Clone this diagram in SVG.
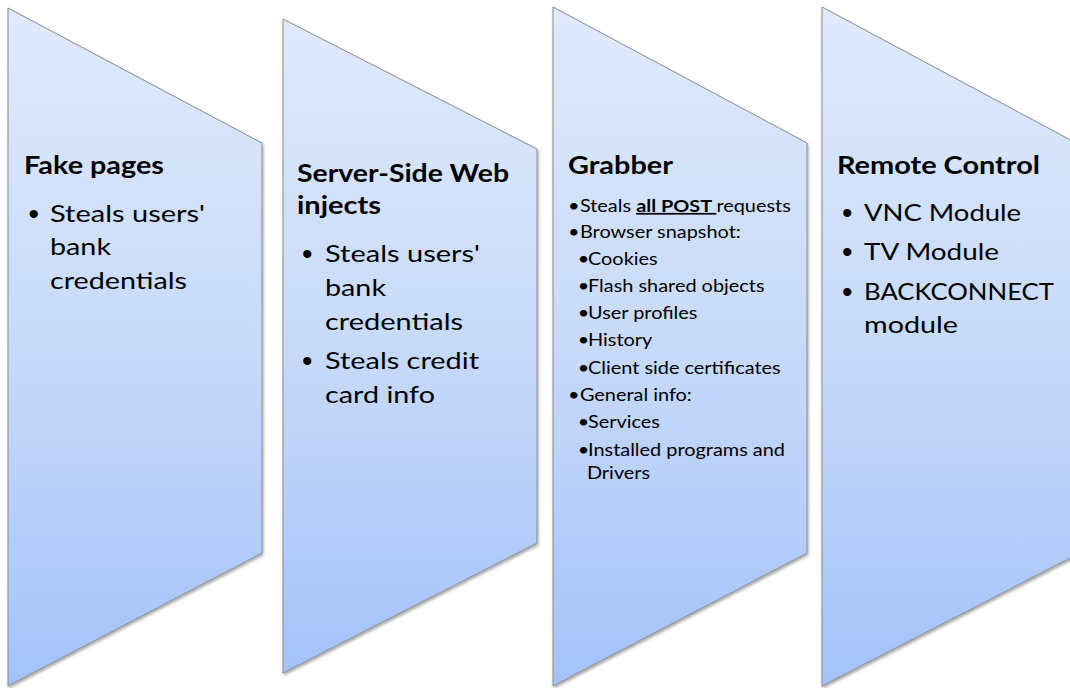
<svg xmlns="http://www.w3.org/2000/svg" width="1070" height="688" viewBox="0 0 1070 688">
  <defs>
    <linearGradient id="fill" x1="0" y1="0" x2="0" y2="1">
      <stop offset="0" stop-color="#e0eafc"/>
      <stop offset="0.5" stop-color="#c7daf9"/>
      <stop offset="1" stop-color="#a4c2fa"/>
    </linearGradient>
    <filter id="shadow" x="-5%" y="-5%" width="110%" height="110%">
      <feDropShadow dx="1" dy="2" stdDeviation="1.5" flood-color="#000" flood-opacity="0.35"/>
    </filter>
  </defs>
  <style>
    .shape { fill: url(#fill); stroke: #8c8c8c; stroke-width: 1; filter: url(#shadow); }
    text { font-family: Lato, "Open Sans", "Liberation Sans", sans-serif; fill: #000; }
    .title { font-size: 24px; font-weight: bold; }
    .big { font-size: 22.5px; }
    .small { font-size: 17px; }
    .dot { font-family: "Liberation Sans", Arial, sans-serif; font-size: 30px; }
    .u { font-weight: bold; text-decoration: underline; }
  </style>
  <rect width="1070" height="688" fill="#fff"/>
  <g id="connectors"></g>

  <g id="node-fake-pages">
    <polygon class="shape" points="8,8 262,143 262,553 8,686"/>
    <text class="title" x="24" y="174" textLength="140" lengthAdjust="spacingAndGlyphs">Fake pages</text>
    <text class="dot" x="28.5" y="224">•</text>
    <text class="big" x="50" y="222" textLength="155" lengthAdjust="spacingAndGlyphs">Steals users'</text>
    <text class="big" x="50" y="255" textLength="61" lengthAdjust="spacingAndGlyphs">bank</text>
    <text class="big" x="50" y="289" textLength="137" lengthAdjust="spacingAndGlyphs">credentials</text>
  </g>

  <g id="node-server-side">
    <polygon class="shape" points="283,19 537,149 537,543 283,673"/>
    <text class="title" x="297" y="182" textLength="212" lengthAdjust="spacingAndGlyphs">Server-Side Web</text>
    <text class="title" x="297" y="214" textLength="84" lengthAdjust="spacingAndGlyphs">injects</text>
    <text class="dot" x="302" y="264">•</text>
    <text class="big" x="325" y="262" textLength="155" lengthAdjust="spacingAndGlyphs">Steals users'</text>
    <text class="big" x="325" y="296" textLength="61" lengthAdjust="spacingAndGlyphs">bank</text>
    <text class="big" x="325" y="330" textLength="138" lengthAdjust="spacingAndGlyphs">credentials</text>
    <text class="dot" x="302" y="371">•</text>
    <text class="big" x="325" y="369" textLength="154" lengthAdjust="spacingAndGlyphs">Steals credit</text>
    <text class="big" x="325" y="403" textLength="110" lengthAdjust="spacingAndGlyphs">card info</text>
  </g>

  <g id="node-grabber">
    <polygon class="shape" points="553,7 807,143 807,553 553,686"/>
    <text class="title" x="568" y="174" textLength="105" lengthAdjust="spacingAndGlyphs">Grabber</text>
    <g transform="translate(568,0) scale(1.17,1)">
      <text class="small" x="0" y="212">•</text>
      <text class="small" x="10.2" y="212">Steals <tspan class="u">all POST </tspan>requests</text>
      <text class="small" x="0" y="238">•</text>
      <text class="small" x="10.2" y="238">Browser snapshot:</text>
      <text class="small" x="8.3" y="265">•</text>
      <text class="small" x="17.1" y="265">Cookies</text>
      <text class="small" x="8.3" y="292">•</text>
      <text class="small" x="17.1" y="292">Flash shared objects</text>
      <text class="small" x="8.3" y="319">•</text>
      <text class="small" x="17.1" y="319">User profiles</text>
      <text class="small" x="8.3" y="346">•</text>
      <text class="small" x="17.1" y="346">History</text>
      <text class="small" x="8.3" y="374">•</text>
      <text class="small" x="17.1" y="374">Client side certificates</text>
      <text class="small" x="0" y="401">•</text>
      <text class="small" x="10.2" y="401">General info:</text>
      <text class="small" x="8.3" y="428">•</text>
      <text class="small" x="17.1" y="428">Services</text>
      <text class="small" x="8.3" y="456">•</text>
      <text class="small" x="17.1" y="456">Installed programs and</text>
      <text class="small" x="16.2" y="479">Drivers</text>
    </g>
  </g>

  <g id="node-remote-control">
    <polygon class="shape" points="822,7 1076,143 1076,555 822,686"/>
    <text class="title" x="837" y="174" textLength="203" lengthAdjust="spacingAndGlyphs">Remote Control</text>
    <text class="dot" x="842" y="223">•</text>
    <text class="big" x="864" y="221" textLength="157" lengthAdjust="spacingAndGlyphs">VNC Module</text>
    <text class="dot" x="842" y="262">•</text>
    <text class="big" x="864" y="260" textLength="135" lengthAdjust="spacingAndGlyphs">TV Module</text>
    <text class="dot" x="842" y="302">•</text>
    <text class="big" x="864" y="300" textLength="190" lengthAdjust="spacingAndGlyphs">BACKCONNECT</text>
    <text class="big" x="864" y="333" textLength="94" lengthAdjust="spacingAndGlyphs">module</text>
  </g>
</svg>
